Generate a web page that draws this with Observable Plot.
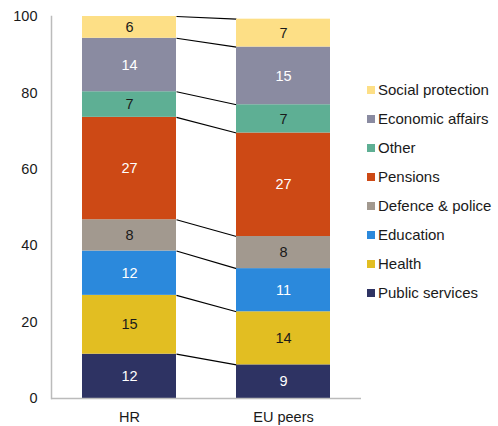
<!DOCTYPE html>
<html>
<head>
<meta charset="utf-8">
<script src="https://cdn.jsdelivr.net/npm/d3@7"></script>
<script src="https://cdn.jsdelivr.net/npm/@observablehq/plot@0.6"></script>
<style>
  html, body { margin: 0; padding: 0; background: #fff; }
  #wrap { position: relative; width: 498px; height: 426px; font-family: "Liberation Sans", Arial, sans-serif; }
  #legend { position: absolute; left: 367px; top: 75px; font-size: 15px; color: #1a1a1a; }
  .item { height: 29px; display: flex; align-items: center; white-space: nowrap; }
  .sw { width: 8px; height: 8px; margin-right: 3px; flex: none; }
</style>
</head>
<body>
<div id="wrap"><div id="legend"></div></div>
<script>
// Categories, bottom to top of each stack
const categories = ["Public services", "Health", "Education", "Defence & police", "Pensions", "Other", "Economic affairs", "Social protection"];
const groups = ["HR", "EU peers"];
const hrValues = [11.6, 15.4, 11.6, 8.2, 26.8, 6.7, 14.0, 5.7];
const euValues = [8.8, 13.9, 11.3, 8.4, 27.1, 7.4, 15.1, 7.3];
const yTicks = [0, 20, 40, 60, 80, 100];

const colors = ["#2E3363", "#E2BE22", "#2B89DC", "#A2998F", "#CD4915", "#5EAF94", "#8A8BA1", "#FDDF86"];
const labelColors = ["#fff", "#1a1a1a", "#fff", "#1a1a1a", "#fff", "#1a1a1a", "#fff", "#1a1a1a"];

const series = [hrValues, euValues];
const data = [];
groups.forEach((g, gi) => categories.forEach((c, ci) => data.push({group: g, category: c, value: series[gi][ci], ci})));

// connectors: top of each segment in HR to top in EU peers
const hrCum = d3.cumsum(hrValues), euCum = d3.cumsum(euValues);
const links = categories.map((c, i) => ({category: c, a: groups[0], b: groups[1], y1: hrCum[i], y2: euCum[i]}));

const plot = Plot.plot({
  width: 498,
  height: 426,
  marginLeft: 51,
  marginRight: 137,
  marginTop: 16,
  marginBottom: 28,
  style: {fontFamily: "'Liberation Sans', Arial, sans-serif", fontSize: "14.5px", color: "#1a1a1a", background: "#fff"},
  x: {domain: groups, paddingInner: 0.387, paddingOuter: 0.194, label: null},
  y: {domain: [0, 100], label: null},
  color: {domain: categories, range: colors},
  marks: [
    Plot.link(links, {
      x1: "a", x2: "b", y1: "y1", y2: "y2", stroke: "#000", strokeWidth: 1.2,
      render(index, scales, values, dimensions, context, next) {
        const sx = scales.x;
        const bw = (scales.scales && scales.scales.x && scales.scales.x.bandwidth) || (sx.bandwidth ? sx.bandwidth() : 0);
        const X1 = new Float64Array(values.x1.length), X2 = new Float64Array(values.x2.length);
        for (const i of index) {
          X1[i] = values.x1[i] + bw / 2;
          X2[i] = values.x2[i] - bw / 2;
        }
        return next(index, scales, {...values, x1: X1, x2: X2}, dimensions, context);
      }
    }),
    Plot.barY(data, {x: "group", y: "value", fill: "category", order: categories}),
    Plot.text(data, Plot.stackY({x: "group", y: "value", z: "category", order: categories,
      text: d => d3.format(".0f")(Math.round(d.value)),
      fill: d => labelColors[d.ci], fontSize: 14.5})),
    Plot.ruleY([0], {stroke: "#bbb", strokeWidth: 1.5}),
    Plot.frame({anchor: "left", stroke: "#bbb", strokeWidth: 1.5}),
    Plot.axisY({ticks: yTicks, tickSize: 0, tickPadding: 14, fontSize: 14.5}),
    Plot.axisX({tickSize: 0, tickPadding: 13, fontSize: 14.5})
  ]
});
document.getElementById("wrap").prepend(plot);

const legend = document.getElementById("legend");
categories.slice().reverse().forEach(c => {
  const i = categories.indexOf(c);
  const it = document.createElement("div");
  it.className = "item";
  it.innerHTML = `<span class="sw" style="background:${colors[i]}"></span><span>${c}</span>`;
  legend.appendChild(it);
});
</script>
</body>
</html>
